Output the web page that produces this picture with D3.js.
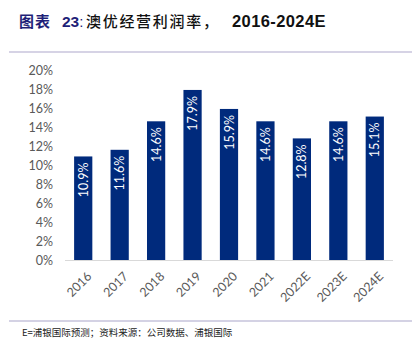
<!DOCTYPE html>
<html><head><meta charset="utf-8">
<script src="https://cdn.jsdelivr.net/npm/d3@7/dist/d3.min.js"></script>
<style>body{margin:0;background:#fff;}svg{display:block;}</style>
</head><body>
<svg id="c" width="418" height="353"></svg>
<script>
const categories = ["2016","2017","2018","2019","2020","2021","2022E","2023E","2024E"];
const values = [10.9, 11.6, 14.6, 17.9, 15.9, 14.6, 12.8, 14.6, 15.1];
const yTicks = [0,2,4,6,8,10,12,14,16,18,20];

const svg = d3.select("#c");
const font = "'Noto Sans CJK SC', sans-serif";
const lfont = "Lato, 'Liberation Sans', Arial, sans-serif";

// title
const t = svg.append("text").attr("y", 27).attr("font-size", 15);
t.append("tspan").attr("x", 19).attr("fill", "#1f1f78").attr("font-family", font).attr("font-weight", "bold").attr("letter-spacing", 1).text("图表");
t.append("tspan").attr("x", 62).attr("fill", "#1f1f78").attr("font-family", "'Liberation Sans', sans-serif").attr("font-weight", "bold").attr("font-size", 15.5).text("23");
t.append("tspan").attr("fill", "#1f1f78").attr("font-family", "'Liberation Sans', sans-serif").text(":");
t.append("tspan").attr("x", 86).attr("fill", "#111").attr("font-family", font).attr("font-weight", "500").attr("letter-spacing", 1.7).text("澳优经营利润率，");
t.append("tspan").attr("x", 232).attr("fill", "#111").attr("font-family", "'Liberation Sans', sans-serif").attr("font-weight", "bold").attr("font-size", 16.5).attr("letter-spacing", 0.4).text("2016-2024E");
svg.append("line").attr("x1", 9).attr("x2", 412).attr("y1", 52).attr("y2", 52)
  .attr("stroke", "#c9c5dd").attr("stroke-width", 1.5);

const x = d3.scaleBand().domain(categories).range([65, 393]).paddingInner(0.5).paddingOuter(0.25);
const y = d3.scaleLinear().domain([0, 20]).range([260, 70]);

// y axis
const ya = svg.append("g").attr("transform", "translate(53,0)")
  .call(d3.axisLeft(y).tickValues(yTicks).tickSize(0).tickFormat(d => d + "%"));
ya.select(".domain").remove();
ya.selectAll("text").attr("font-family", lfont).attr("font-size", 12.5).attr("fill", "#595959").attr("x", 0);

// bars
svg.selectAll("rect.bar").data(values).enter().append("rect")
  .attr("class", "bar")
  .attr("x", (d, i) => x(categories[i]))
  .attr("width", x.bandwidth())
  .attr("y", d => y(d))
  .attr("height", d => y(0) - y(d))
  .attr("fill", "#002a7c");

// x axis
const xa = svg.append("g").attr("transform", "translate(0,260)")
  .call(d3.axisBottom(x).tickSize(0));
xa.select(".domain").attr("stroke", "#d9d9d9").attr("d", "M65,0.5H393");
xa.selectAll("text").attr("font-family", lfont).attr("font-size", 12.5).attr("fill", "#595959")
  .attr("text-anchor", "end").attr("dy", "0.35em")
  .attr("transform", "translate(4,12) rotate(-45)");

// value labels
svg.selectAll("text.val").data(values).enter().append("text")
  .attr("class", "val")
  .attr("transform", (d, i) => `translate(${x(categories[i]) + x.bandwidth() / 2 + 4.5},${y(d) + 6}) rotate(-90)`)
  .attr("text-anchor", "end")
  .attr("font-family", lfont).attr("font-size", 12.5).attr("fill", "#fff")
  .text(d => d.toFixed(1) + "%");

// footer
svg.append("line").attr("x1", 9).attr("x2", 412).attr("y1", 321).attr("y2", 321)
  .attr("stroke", "#a9a6c9").attr("stroke-width", 1.2);
svg.append("text").attr("x", 22).attr("y", 336)
  .attr("font-family", font).attr("font-size", 9.5).attr("fill", "#222")
  .text("E=浦银国际预测；资料来源：公司数据、浦银国际");
</script>
</body></html>
